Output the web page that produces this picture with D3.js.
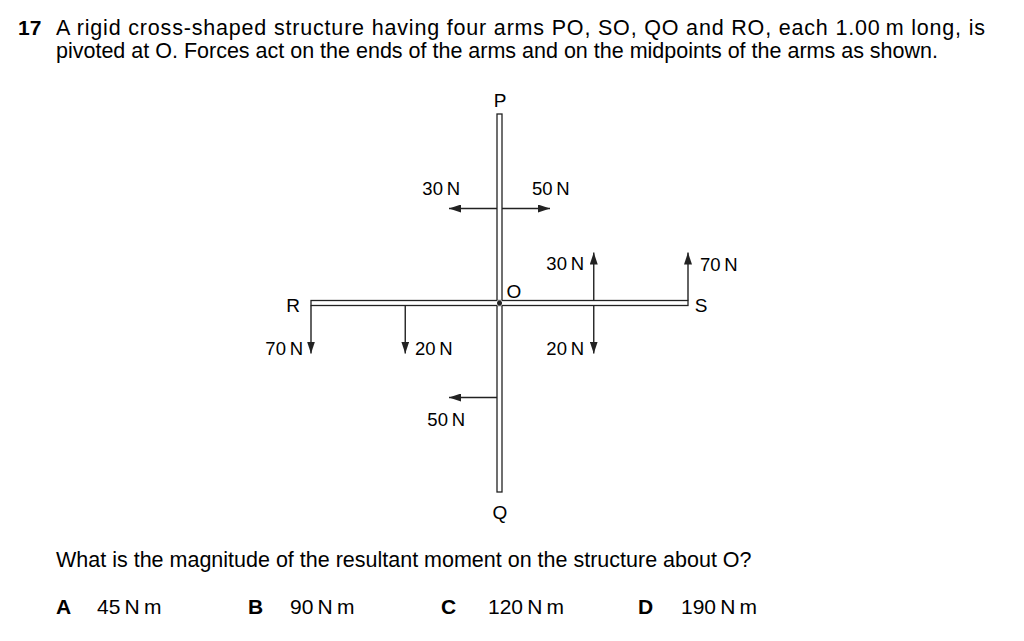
<!DOCTYPE html>
<html><head><meta charset="utf-8">
<script src="https://cdn.jsdelivr.net/npm/d3@7"></script>
<style>body{margin:0;background:#fff}svg{font-family:"Liberation Sans",Arial,sans-serif}</style>
</head><body>
<svg id="fig" width="1024" height="641"></svg>
<script>
// arms: name, direction unit vector (x right, y up)
var arms = [
  {name: 'P', dx: 0, dy: 1},
  {name: 'S', dx: 1, dy: 0},
  {name: 'Q', dx: 0, dy: -1},
  {name: 'R', dx: -1, dy: 0}
];
// forces: position along axis (m from O), direction, label
var forces = [
  {x: 0, y: 0.5, fx: -1, fy: 0, label: '30\u2009N', lx: 460, ly: 195, anchor: 'end'},
  {x: 0, y: 0.5, fx: 1, fy: 0, label: '50\u2009N', lx: 532, ly: 195, anchor: 'start'},
  {x: 0.5, y: 0, fx: 0, fy: 1, label: '30\u2009N', lx: 584, ly: 270, anchor: 'end'},
  {x: 0.5, y: 0, fx: 0, fy: -1, label: '20\u2009N', lx: 584, ly: 355, anchor: 'end'},
  {x: 1, y: 0, fx: 0, fy: 1, label: '70\u2009N', lx: 700, ly: 271, anchor: 'start'},
  {x: -1, y: 0, fx: 0, fy: -1, label: '70\u2009N', lx: 303, ly: 355, anchor: 'end'},
  {x: -0.5, y: 0, fx: 0, fy: -1, label: '20\u2009N', lx: 415, ly: 355, anchor: 'start'},
  {x: 0, y: -0.5, fx: -1, fy: 0, label: '50\u2009N', lx: 465, ly: 426, anchor: 'end'}
];
var options = ['A', 'B', 'C', 'D'];
var answers = ['45\u2009N\u2009m', '90\u2009N\u2009m', '120\u2009N\u2009m', '190\u2009N\u2009m'];

var svg = d3.select('#fig');
var x = d3.scaleLinear().domain([-1, 1]).range([311, 688]);
var y = d3.scaleLinear().domain([-1, 1]).range([492, 114]);
var half = 2.5, alen = 48;

svg.append('defs').append('marker').attr('id', 'ah')
  .attr('viewBox', '0 0 12 8').attr('refX', 12).attr('refY', 4)
  .attr('markerWidth', 12).attr('markerHeight', 8)
  .attr('markerUnits', 'userSpaceOnUse').attr('orient', 'auto')
  .append('path').attr('d', 'M0,0L12,4L0,8Z').attr('fill', '#222');

// structure bars
svg.append('rect').attr('x', x(0) - half).attr('y', y(1))
  .attr('width', half * 2).attr('height', y(-1) - y(1))
  .attr('fill', '#fff').attr('stroke', '#222').attr('stroke-width', 1.3);
svg.append('rect').attr('x', x(-1)).attr('y', y(0) - half)
  .attr('width', x(1) - x(-1)).attr('height', half * 2)
  .attr('fill', '#fff').attr('stroke', '#222').attr('stroke-width', 1.3);
svg.append('rect').attr('x', x(0) - half).attr('y', y(0) - half)
  .attr('width', half * 2).attr('height', half * 2).attr('fill', '#fff');
svg.append('circle').attr('cx', x(0)).attr('cy', y(0)).attr('r', 2.5).attr('fill', '#222');

// forces
svg.selectAll('line.force').data(forces).enter().append('line')
  .attr('class', 'force')
  .attr('x1', function (d) { return x(d.x) + d.fx * half; })
  .attr('y1', function (d) { return y(d.y) - d.fy * half; })
  .attr('x2', function (d) { return x(d.x) + d.fx * (half + alen); })
  .attr('y2', function (d) { return y(d.y) - d.fy * (half + alen); })
  .attr('stroke', '#222').attr('stroke-width', 1.4)
  .attr('marker-end', 'url(#ah)');
svg.selectAll('text.flab').data(forces).enter().append('text')
  .attr('class', 'flab')
  .attr('x', function (d) { return d.lx; }).attr('y', function (d) { return d.ly; })
  .attr('text-anchor', function (d) { return d.anchor; })
  .attr('font-size', 18.5).text(function (d) { return d.label; });

// arm labels
var lpos = {P: [500, 107], S: [701, 312], Q: [500, 519], R: [293, 312]};
svg.selectAll('text.arm').data(arms).enter().append('text')
  .attr('class', 'arm').attr('text-anchor', 'middle').attr('font-size', 19)
  .attr('x', function (d) { return lpos[d.name][0]; })
  .attr('y', function (d) { return lpos[d.name][1]; })
  .text(function (d) { return d.name; });
svg.append('text').attr('x', 514).attr('y', 298).attr('text-anchor', 'middle')
  .attr('font-size', 19).text('O');

// question text
svg.append('text').attr('x', 18).attr('y', 35).attr('font-size', 21)
  .attr('font-weight', 'bold').text('17');
svg.append('text').attr('x', 56).attr('y', 35).attr('font-size', 21.5)
  .attr('textLength', 929).attr('lengthAdjust', 'spacing')
  .text('A rigid cross-shaped structure having four arms PO, SO, QO and RO, each 1.00\u2009m long, is');
svg.append('text').attr('x', 56).attr('y', 58).attr('font-size', 21.5)
  .text('pivoted at O. Forces act on the ends of the arms and on the midpoints of the arms as shown.');
svg.append('text').attr('x', 56).attr('y', 567).attr('font-size', 21.5)
  .text('What is the magnitude of the resultant moment on the structure about O?');

var ox = [56, 248, 441, 638], ax = [97, 290, 488, 681];
svg.selectAll('text.opt').data(options).enter().append('text')
  .attr('class', 'opt').attr('font-weight', 'bold').attr('font-size', 21)
  .attr('x', function (d, i) { return ox[i]; }).attr('y', 614).text(function (d) { return d; });
svg.selectAll('text.ans').data(answers).enter().append('text')
  .attr('class', 'ans').attr('font-size', 21)
  .attr('x', function (d, i) { return ax[i]; }).attr('y', 614).text(function (d) { return d; });
</script>
</body></html>
